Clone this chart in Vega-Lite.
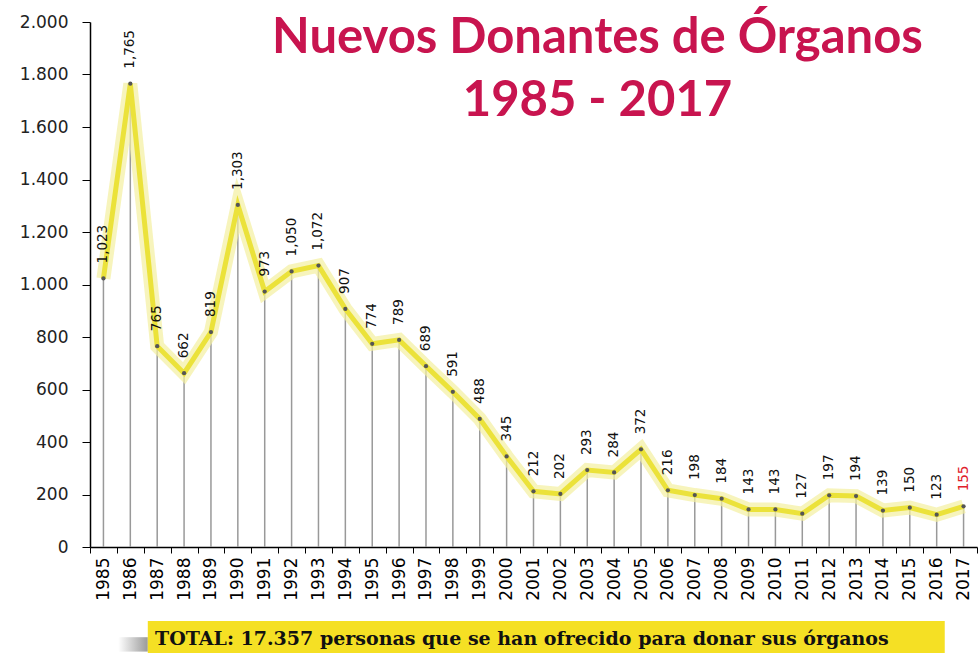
{
  "$schema": "https://vega.github.io/schema/vega-lite/v6.json",
  "background": "white",
  "padding": {"left": 19, "top": 13, "right": 0, "bottom": 0},
  "config": {"view": {"stroke": null}, "font": "DejaVu Sans"},
  "datasets": {
    "donantes": [
      {"anio": "1985", "valor": 1023}, {"anio": "1986", "valor": 1765}, {"anio": "1987", "valor": 765},
      {"anio": "1988", "valor": 662}, {"anio": "1989", "valor": 819}, {"anio": "1990", "valor": 1303},
      {"anio": "1991", "valor": 973}, {"anio": "1992", "valor": 1050}, {"anio": "1993", "valor": 1072},
      {"anio": "1994", "valor": 907}, {"anio": "1995", "valor": 774}, {"anio": "1996", "valor": 789},
      {"anio": "1997", "valor": 689}, {"anio": "1998", "valor": 591}, {"anio": "1999", "valor": 488},
      {"anio": "2000", "valor": 345}, {"anio": "2001", "valor": 212}, {"anio": "2002", "valor": 202},
      {"anio": "2003", "valor": 293}, {"anio": "2004", "valor": 284}, {"anio": "2005", "valor": 372},
      {"anio": "2006", "valor": 216}, {"anio": "2007", "valor": 198}, {"anio": "2008", "valor": 184},
      {"anio": "2009", "valor": 143}, {"anio": "2010", "valor": 143}, {"anio": "2011", "valor": 127},
      {"anio": "2012", "valor": 197}, {"anio": "2013", "valor": 194}, {"anio": "2014", "valor": 139},
      {"anio": "2015", "valor": 150}, {"anio": "2016", "valor": 123}, {"anio": "2017", "valor": 155}
    ],
    "banner": [{"texto": "TOTAL: 17.357 personas que se han ofrecido para donar sus órganos"}]
  },
  "spacing": 20,
  "resolve": {"scale": {"x": "independent"}},
  "vconcat": [
    {
      "width": 887,
      "height": 525,
      "title": {
        "text": ["Nuevos Donantes de Órganos", "1985 - 2017"],
        "color": "#c8144f",
        "font": "Lato",
        "fontSize": 49,
        "fontWeight": "bold",
        "lineHeight": 63,
        "anchor": "middle",
        "align": "center",
        "baseline": "top",
        "dx": 64,
        "offset": -113
      },
      "data": {"name": "donantes"},
      "encoding": {
        "x": {
          "field": "anio", "type": "ordinal",
          "scale": {"type": "band", "paddingInner": 0, "paddingOuter": 0},
          "axis": {
            "title": null, "tickBand": "extent", "labelAngle": 270, "labelAlign": "right",
            "labelBaseline": "middle", "labelFontSize": 17, "labelColor": "#000",
            "tickSize": 6, "tickColor": "#000", "domainColor": "#000", "domainWidth": 1.5, "labelPadding": 4, "grid": false
          }
        },
        "y": {
          "field": "valor", "type": "quantitative",
          "scale": {"domain": [0, 2000], "nice": false},
          "axis": {
            "title": null, "grid": false,
            "values": [0, 200, 400, 600, 800, 1000, 1200, 1400, 1600, 1800, 2000],
            "labelExpr": "replace(format(datum.value, ','), ',', '.')",
            "labelFontSize": 17, "labelColor": "#222", "tickSize": 8, "tickColor": "#000",
            "domainColor": "#000", "domainWidth": 1.5, "labelPadding": 14
          }
        }
      },
      "layer": [
        {"mark": {"type": "rule", "color": "#999999", "strokeWidth": 1.5}, "encoding": {"y2": {"datum": 0}}},
        {"mark": {"type": "line", "color": "#f4efa0", "strokeWidth": 14, "opacity": 0.7}},
        {"mark": {"type": "line", "color": "#ebe23a", "strokeWidth": 5}},
        {"mark": {"type": "point", "filled": true, "size": 18, "color": "#555", "opacity": 1}},
        {
          "mark": {"type": "text", "angle": 270, "align": "left", "baseline": "middle", "dx": 15, "fontSize": 13.5},
          "encoding": {
            "text": {"field": "valor", "type": "quantitative", "format": ","},
            "color": {"condition": {"test": "datum.anio == '2017'", "value": "#e0202a"}, "value": "#111"}
          }
        }
      ]
    },
    {
      "width": 887,
      "height": 36,
      "data": {"name": "banner"},
      "layer": [
        {
          "mark": {
            "type": "rect",
            "color": {"gradient": "linear", "x1": 0, "x2": 1, "y1": 0, "y2": 0, "stops": [{"offset": 0, "color": "#ffffff"}, {"offset": 1, "color": "#9a9a9a"}]}
          },
          "encoding": {
            "x": {"datum": 1985.55, "type": "quantitative", "scale": {"domain": [1984.5, 2017.5], "nice": false, "zero": false}, "axis": null},
            "x2": {"datum": 1986.65},
            "y": {"datum": 0.15, "type": "quantitative", "scale": {"domain": [0, 1], "nice": false}, "axis": null},
            "y2": {"datum": 0.55}
          }
        },
        {
          "mark": {"type": "rect", "color": "#f5e024"},
          "encoding": {
            "x": {"datum": 1986.65, "type": "quantitative"},
            "x2": {"datum": 2016.3}
          }
        },
        {
          "mark": {"type": "text", "align": "left", "baseline": "middle", "font": "DejaVu Serif", "fontWeight": "bold", "fontSize": 19, "color": "#111"},
          "encoding": {
            "x": {"datum": 1986.92, "type": "quantitative"},
            "text": {"field": "texto"}
          }
        }
      ]
    }
  ]
}
